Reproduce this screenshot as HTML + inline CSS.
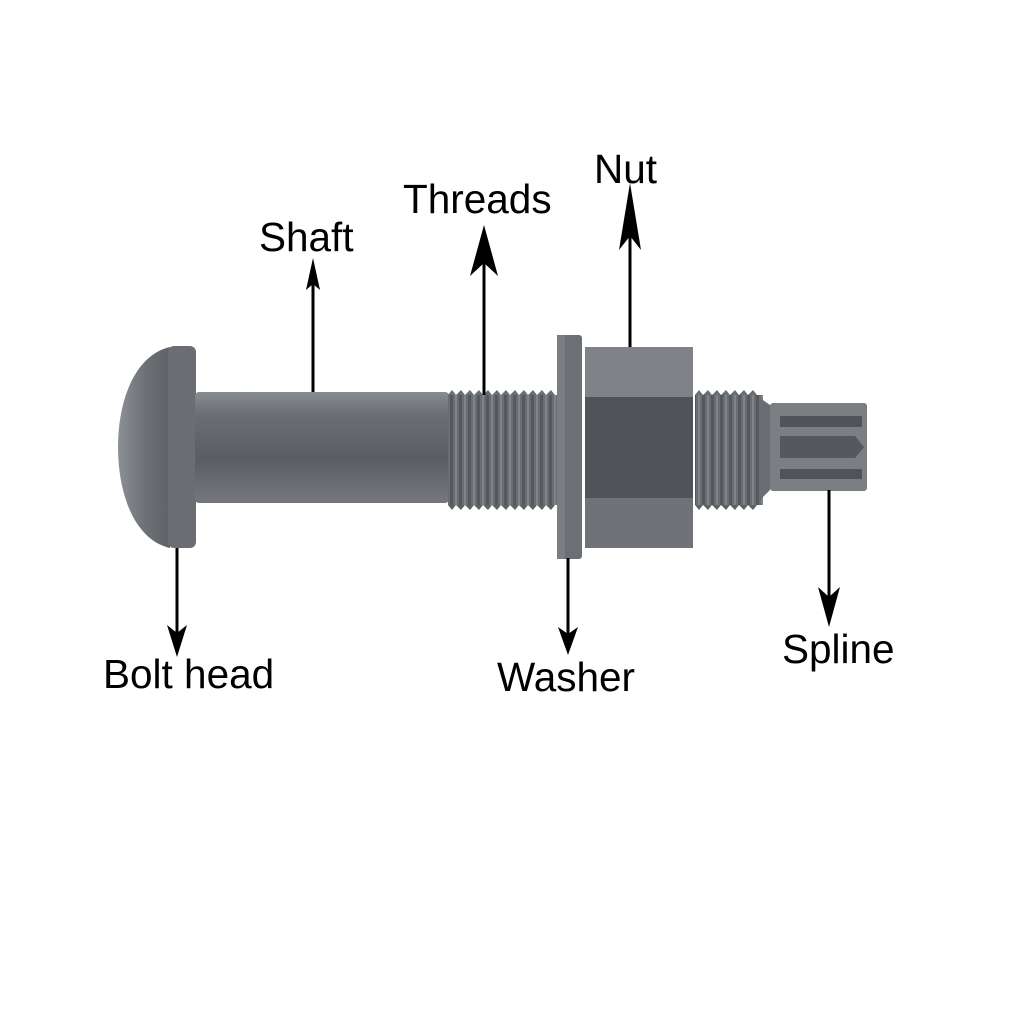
<!DOCTYPE html>
<html><head><meta charset="utf-8"><style>
html,body{margin:0;padding:0;background:#fff;}
svg{display:block;}
text{font-family:"Liberation Sans",Arial,sans-serif;font-size:40.5px;fill:#000;}
</style></head><body>
<svg width="1022" height="1020" viewBox="0 0 1022 1020" xmlns="http://www.w3.org/2000/svg">
<defs>
<linearGradient id="cyl" x1="0" y1="0" x2="0" y2="1">
<stop offset="0" stop-color="#8a8d90"/><stop offset="0.2" stop-color="#6b6e72"/>
<stop offset="0.6" stop-color="#5a5d61"/><stop offset="1" stop-color="#74777b"/></linearGradient>
<linearGradient id="head" x1="0" y1="0" x2="1" y2="0">
<stop offset="0" stop-color="#8d9094"/><stop offset="0.5" stop-color="#6e7175"/><stop offset="1" stop-color="#5f6266"/></linearGradient>
<pattern id="thr" width="9" height="10" patternUnits="userSpaceOnUse">
<rect width="9" height="10" fill="#6a6d71"/><rect x="0" width="3" height="10" fill="#55585c"/><rect x="5" width="2" height="10" fill="#808387"/></pattern>
</defs>
<path d="M170,347 C135,355 118,400 118,447 C118,495 135,540 170,548 Z" fill="url(#head)"/>
<rect x="168" y="346" width="28" height="202" rx="6" fill="#6a6d71"/>
<rect x="195" y="392" width="254" height="111" rx="4" fill="url(#cyl)"/>
<rect x="448" y="395" width="112" height="110" fill="url(#thr)"/>
<path d="M448,395 l4,-5 l4,5 l5,-5 l4,5 l5,-5 l4,5 l5,-5 l4,5 l5,-5 l4,5 l5,-5 l4,5 l5,-5 l4,5 l5,-5 l4,5 l5,-5 l4,5 l5,-5 l4,5 l5,-5 l4,5 l5,-5 l4,5Z" fill="#6a6d71"/>
<path d="M448,505 l4,5 l4,-5 l5,5 l4,-5 l5,5 l4,-5 l5,5 l4,-5 l5,5 l4,-5 l5,5 l4,-5 l5,5 l4,-5 l5,5 l4,-5 l5,5 l4,-5 l5,5 l4,-5 l5,5 l4,-5 l5,5 l4,-5Z" fill="#5e6165"/>
<rect x="557" y="335" width="25" height="224" rx="3" fill="#6c6f73"/>
<rect x="557" y="335" width="8" height="224" fill="#7a7d81"/>
<path d="M585,350 L590,347 L690,347 L693,352 L693,545 L690,548 L590,548 L585,545 Z" fill="#7d8084"/>
<rect x="585" y="397" width="108" height="101" fill="#505357"/>
<rect x="585" y="347" width="108" height="50" fill="#7f8286"/>
<rect x="585" y="498" width="108" height="50" fill="#6f7276"/>
<rect x="695" y="395" width="68" height="110" fill="url(#thr)"/>
<path d="M695,395 l4,-5 l4,5 l5,-5 l4,5 l5,-5 l4,5 l5,-5 l4,5 l5,-5 l4,5 l5,-5 l4,5 l5,-5 l4,5Z" fill="#6a6d71"/>
<path d="M695,505 l4,5 l4,-5 l5,5 l4,-5 l5,5 l4,-5 l5,5 l4,-5 l5,5 l4,-5 l5,5 l4,-5 l5,5 l4,-5Z" fill="#5e6165"/>
<path d="M760,398 L770,405 L770,490 L760,500 Z" fill="#6a6d71"/>
<rect x="770" y="403" width="97" height="88" rx="3" fill="#7b7e82"/>
<rect x="780" y="416" width="82" height="11" fill="#505357"/>
<path d="M780,436 L855,436 L864,447 L855,458 L780,458 Z" fill="#55585c"/>
<rect x="780" y="469" width="82" height="10" fill="#505357"/>
<g stroke="#000" stroke-width="3">
<line x1="313" y1="392" x2="313" y2="270"/>
<line x1="484" y1="395" x2="484" y2="235"/>
<line x1="630" y1="347" x2="630" y2="195"/>
<line x1="177" y1="548" x2="177" y2="645"/>
<line x1="568" y1="558" x2="568" y2="645"/>
<line x1="829" y1="490" x2="829" y2="617"/>
</g>
<g fill="#000">
<path d="M313,258 L320,290 L313,284 L306,290 Z"/>
<path d="M484,225 L498,276 L484,263 L470,276 Z"/>
<path d="M630,183 L641,250 L630,236 L619,250 Z"/>
<path d="M177,657 L167,625 L177,633 L187,625 Z"/>
<path d="M568,655 L558,627 L568,634 L578,627 Z"/>
<path d="M829,627 L818,587 L829,597 L840,587 Z"/>
</g>
<text x="259" y="251">Shaft</text>
<text x="403" y="213">Threads</text>
<text x="594" y="183">Nut</text>
<text x="103" y="688">Bolt head</text>
<text x="497" y="691">Washer</text>
<text x="782" y="663">Spline</text>
</svg>
</body></html>
